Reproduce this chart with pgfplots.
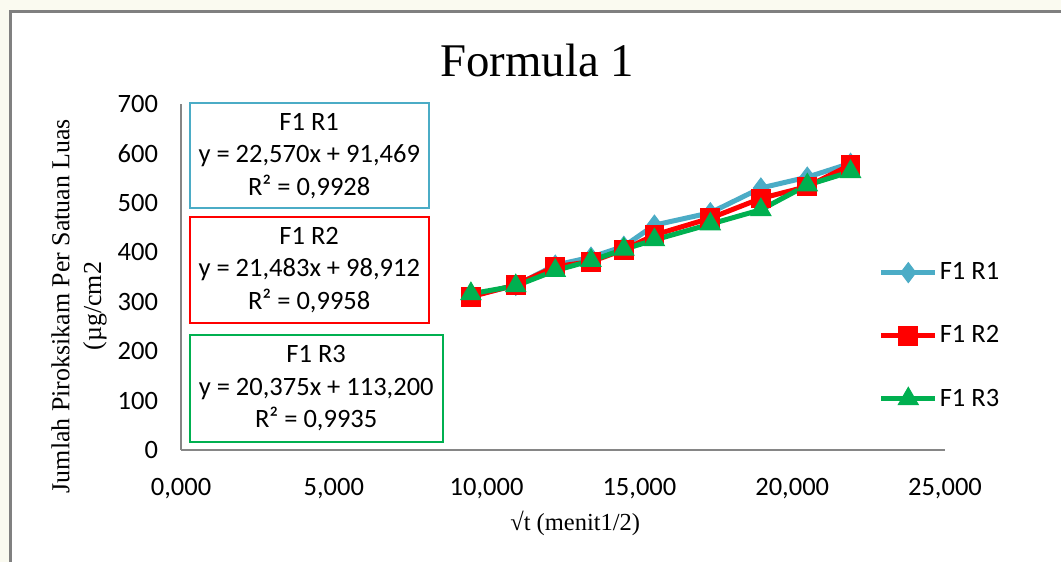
\documentclass[border=0pt]{standalone}
\usepackage{pgfplots}
\pgfplotsset{compat=1.18}
\usepackage{fontspec}
\setmainfont{Carlito}
\newfontfamily\serif{Liberation Serif}
\definecolor{cblue}{HTML}{4BACC6}
\definecolor{cred}{HTML}{FF0000}
\definecolor{cgreen}{HTML}{00B050}
\definecolor{axgray}{HTML}{868686}
\definecolor{pale}{HTML}{FAFAF0}
\begin{document}
\begin{tikzpicture}
\useasboundingbox (0,0) rectangle (530.5bp,281bp);
\fill[pale] (0,0) rectangle (530.5bp,281bp);
\filldraw[fill=white,draw=gray,line width=1.5bp] (5bp,-5bp) rectangle (540bp,275bp);
\begin{axis}[
  at={(90.5bp,56bp)}, anchor=origin,
  scale only axis, width=382bp, height=173bp,
  xmin=0, xmax=25, ymin=0, ymax=700,
  axis x line=bottom, axis y line=left,
  axis line style={draw=axgray, line width=0.8bp, -},
  xtick={0,5,10,15,20,25},
  xticklabels={{0,000},{5,000},{10,000},{15,000},{20,000},{25,000}},
  ytick={0,100,200,300,400,500,600,700},
  yticklabels={0,100,200,300,400,500,600,700},
  major tick length=0pt,
  tick style={draw=none},
  ticklabel style={font=\fontsize{13.3}{15}\selectfont},
  yticklabel style={xshift=-8bp},
  xticklabel style={yshift=-10.5bp},
  /pgf/number format/assume math mode=true,
  title={\serif Formula 1},
  title style={at={(0.466,1.045)}, anchor=base, font=\fontsize{23.5}{28}\selectfont},
  xlabel={\serif √t (menit1/2)},
  xlabel style={at={(axis description cs:0.516,-0.211)}, anchor=center, font=\fontsize{12.3}{15}\selectfont},
  ylabel={\serif Jumlah Piroksikam Per Satuan Luas\\\serif (µg/cm2},
  ylabel style={at={(axis description cs:-0.1335,0.416)}, anchor=center, rotate=0, align=center, font=\fontsize{13}{16}\selectfont},
  legend style={at={(0.905,0.33)}, anchor=west, draw=none, fill=none,
    font=\fontsize{13.3}{15}\selectfont, row sep=19.5bp,
    nodes={inner sep=1bp}},
  legend cell align=left,
  legend image code/.code={
    \draw[mark repeat=2,mark phase=2] plot coordinates {(0bp,0bp) (13.5bp,0bp) (27bp,0bp)};
  },
  clip=false,
]
\addplot[color=cblue, line width=2.5bp, mark=diamond*, mark size=5bp, mark options={solid, fill=cblue, line width=0.5bp}]
  coordinates {(9.487,312) (10.954,333) (12.247,374) (13.416,390) (14.491,412) (15.492,455) (17.321,480) (18.974,530) (20.494,552) (21.909,580)};
\addlegendentry{F1 R1}
\addplot[color=cred, line width=2.5bp, mark=square*, mark size=4.7bp, mark options={solid, fill=cred, line width=0.5bp}]
  coordinates {(9.487,310) (10.954,334) (12.247,371) (13.416,381) (14.491,405) (15.492,435) (17.321,469) (18.974,509) (20.494,533) (21.909,577)};
\addlegendentry{F1 R2}
\addplot[color=cgreen, line width=2.5bp, mark=triangle*, mark size=5.8bp, mark options={solid, fill=cgreen, line width=0.5bp}]
  coordinates {(9.487,316) (10.954,332) (12.247,363) (13.416,383) (14.491,406) (15.492,425) (17.321,457) (18.974,486) (20.494,536) (21.909,563)};
\addlegendentry{F1 R3}
\end{axis}
\begin{scope}[every node/.style={align=center, font=\fontsize{13.3}{16.25}\selectfont, line width=1bp, inner sep=0pt, fill=white}]
\node[draw=cblue, minimum width=119.5bp, minimum height=52.5bp] at (154.6bp,203.1bp) {F1 R1\\y = 22,570x + 91,469\\R² = 0,9928};
\node[draw=cred, minimum width=119.5bp, minimum height=53.3bp] at (154.6bp,146bp) {F1 R2\\y = 21,483x + 98,912\\R² = 0,9958};
\node[draw=cgreen, minimum width=126.5bp, minimum height=53.3bp] at (158.1bp,86.8bp) {F1 R3\\y = 20,375x + 113,200\\R² = 0,9935};
\end{scope}
\end{tikzpicture}
\end{document}
